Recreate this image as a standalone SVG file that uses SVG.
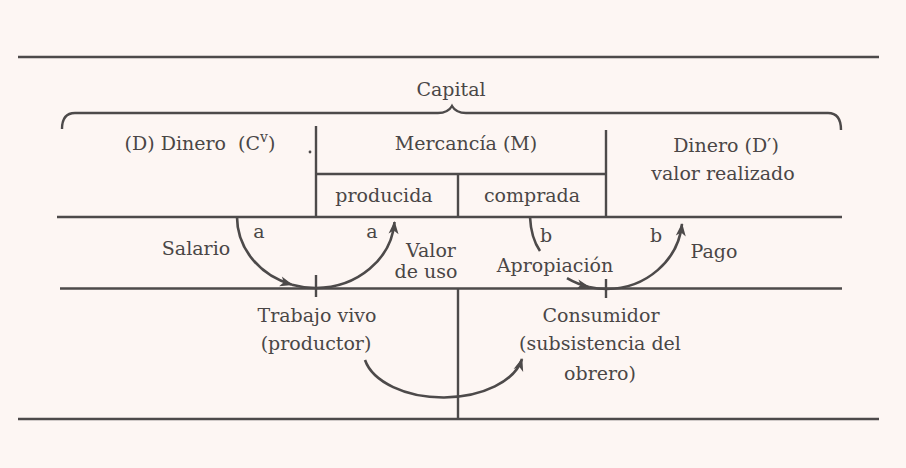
<svg xmlns="http://www.w3.org/2000/svg" width="906" height="468" viewBox="0 0 906 468">
<style>
.ln{stroke:#4d4a4a;stroke-width:2.4;fill:none;stroke-linecap:butt}
.arc{stroke:#4d4a4a;stroke-width:2.6;fill:none}
text{font-family:"DejaVu Serif","Liberation Serif",serif;font-size:19px;fill:#4a4646;text-anchor:middle}
</style>
<defs>
<marker id="ah" markerUnits="userSpaceOnUse" markerWidth="16" markerHeight="12" refX="12" refY="5" orient="auto" overflow="visible">
<path d="M0,0 L13,5 L0,10 L3.5,5 z" fill="#4d4a4a"/>
</marker>
</defs>
<rect x="0" y="0" width="906" height="468" fill="#fdf6f3"/>
<g id="frame">
<line class="ln" x1="18" y1="57" x2="879" y2="57"/>
<line class="ln" x1="57" y1="217" x2="842" y2="217"/>
<line class="ln" x1="60" y1="288.5" x2="842" y2="288.5"/>
<line class="ln" x1="18" y1="419" x2="879" y2="419"/>
<path class="ln" d="M62,129 Q62,113 75,113 L438,113 Q448,113 452,106 Q456,113 466,113 L828,113 Q841,113 841,130"/>
<line class="ln" x1="316" y1="126" x2="316" y2="217"/>
<line class="ln" x1="606" y1="130" x2="606" y2="217"/>
<line class="ln" x1="316" y1="174" x2="606" y2="174"/>
<line class="ln" x1="458" y1="174" x2="458" y2="217"/>
<line class="ln" x1="316" y1="275" x2="316" y2="297"/>
<line class="ln" x1="606" y1="279" x2="606" y2="298"/>
<line class="ln" x1="458" y1="288" x2="458" y2="419"/>
<circle cx="310" cy="152" r="1.4" fill="#4d4a4a"/>
</g>
<g id="title"><text x="451" y="96">Capital</text></g>
<g id="dinero-d"><text x="200" y="150" xml:space="preserve">(D) Dinero  (C<tspan font-size="14" dy="-8">v</tspan><tspan dy="8">)</tspan></text></g>
<g id="mercancia"><text x="466" y="150">Mercancía (M)</text></g>
<g id="producida"><text x="384" y="202">producida</text></g>
<g id="comprada"><text x="532" y="202">comprada</text></g>
<g id="dinero-d2"><text x="726" y="152">Dinero (D′)</text><text x="723" y="180">valor realizado</text></g>
<g id="salario"><text x="196" y="255">Salario</text></g>
<g id="valor-uso"><text x="431" y="257">Valor</text><text x="426" y="278">de uso</text></g>
<g id="apropiacion"><text x="555" y="272">Apropiación</text></g>
<g id="pago"><text x="714" y="258">Pago</text></g>
<g id="labels-ab">
<text x="259" y="238">a</text><text x="372" y="238">a</text>
<text x="546" y="242">b</text><text x="656" y="242">b</text>
</g>
<g id="trabajo"><text x="317" y="322">Trabajo vivo</text><text x="316" y="350">(productor)</text></g>
<g id="consumidor"><text x="601" y="322">Consumidor</text><text x="600" y="350">(subsistencia del</text><text x="600" y="380">obrero)</text></g>
<g id="connectors">
<path class="arc" d="M237,217 A79,71 0 0 0 292,284.7" marker-end="url(#ah)"/>
<path class="arc" d="M292,284.7 A79,71 0 0 0 316,288 A79,71 0 0 0 394.5,222" marker-end="url(#ah)"/>
<path class="arc" d="M530,217 Q531,238 540,251"/>
<path class="arc" d="M567,278.2 A76,72 0 0 0 589,287" marker-end="url(#ah)"/>
<path class="arc" d="M589,287 A76,72 0 0 0 607,289 A76,72 0 0 0 682,224" marker-end="url(#ah)"/>
<path class="arc" d="M365,360 A80,47 0 0 0 522,359" marker-end="url(#ah)"/>
</g>
</svg>
